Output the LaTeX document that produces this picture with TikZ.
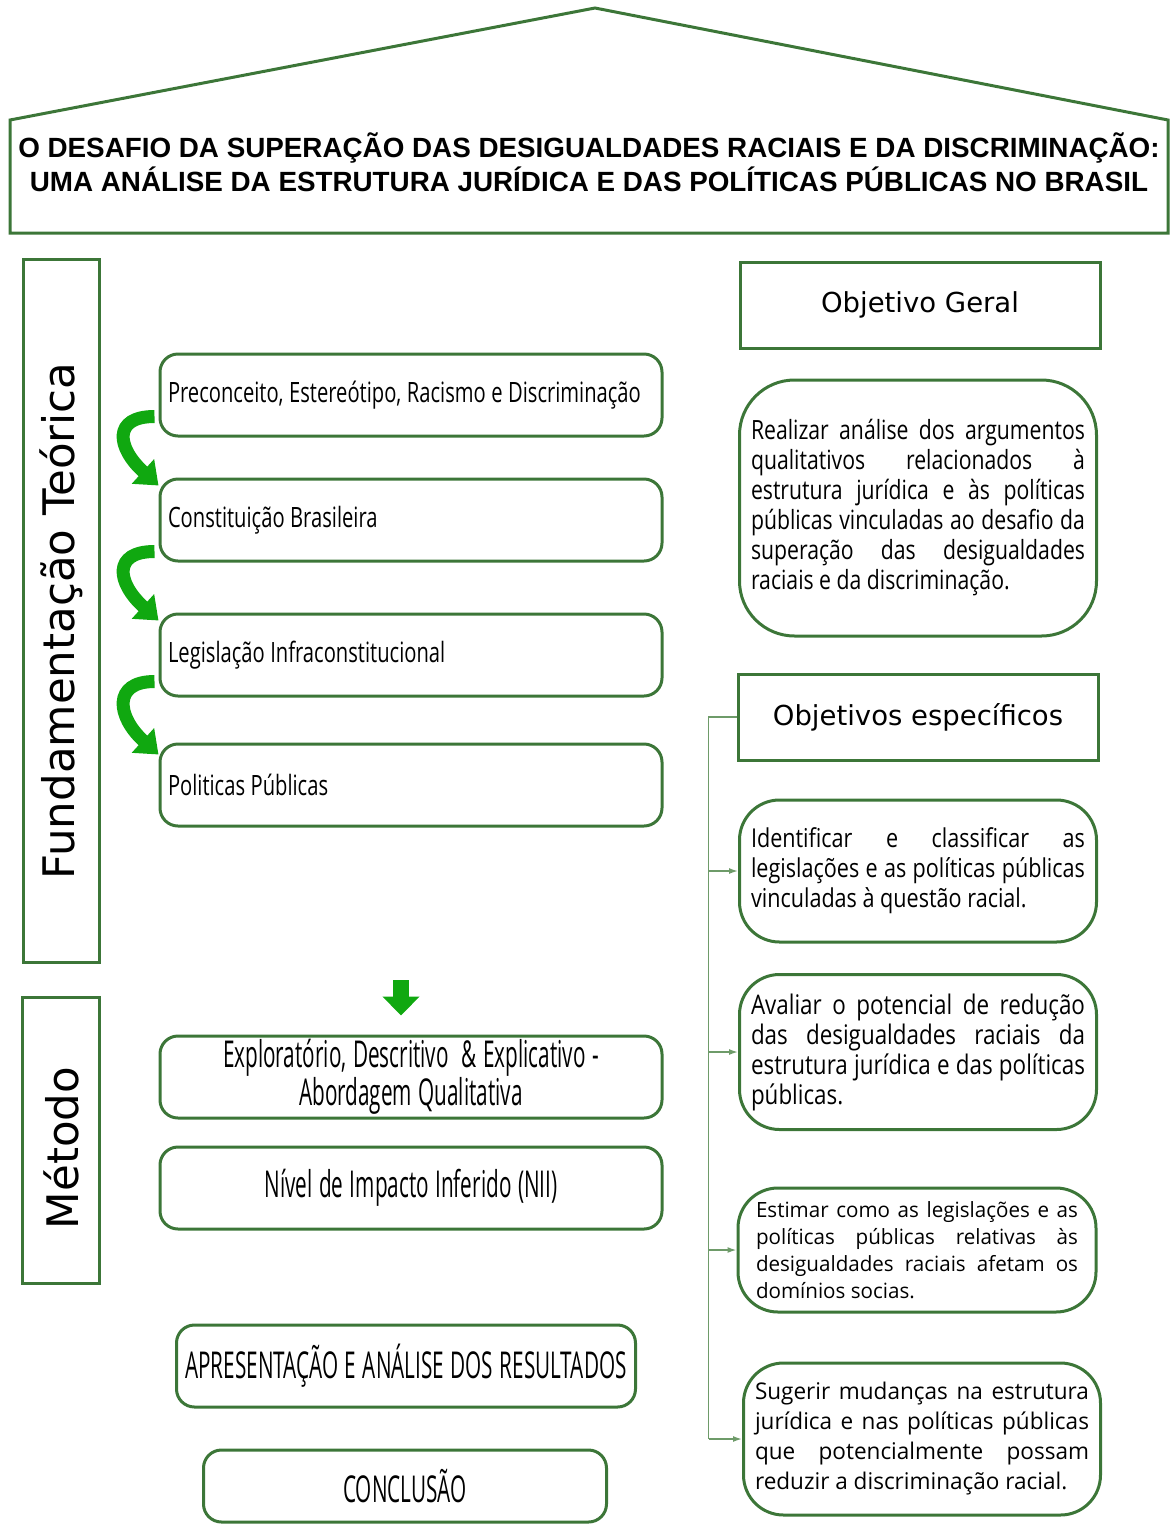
\documentclass[tikz,border=0pt]{standalone}
\usepackage{fontspec}
\usepackage{tikz}
\usetikzlibrary{positioning,arrows.meta}

\newfontfamily\titlefont{Liberation Sans}
\newfontfamily\headfont{DejaVu Sans}
\newfontfamily\boxfont[FakeStretch=0.72]{Open Sans}
\newfontfamily\tallfont[FakeStretch=0.56]{Open Sans}
\newfontfamily\objA[FakeStretch=0.8]{Open Sans}
\newfontfamily\objB[FakeStretch=0.83]{Open Sans}
\newfontfamily\objC[FakeStretch=0.98]{Open Sans}

\definecolor{moldura}{RGB}{60,118,56}
\definecolor{ramo}{RGB}{110,155,105}
\definecolor{verde}{RGB}{16,168,16}

\tolerance=10000
\hyphenpenalty=10000

\tikzset{
  contorno/.style={draw=moldura, line width=3pt, line join=miter},
  titulo/.style={align=center, font=\titlefont\bfseries\fontsize{27.8}{34}\selectfont},
  lateral/.style={draw=moldura, line width=3pt},
  lateraltexto/.style={rotate=90, font=\headfont\fontsize{43.5}{50}\selectfont},
  caixa/.style={draw=moldura, line width=3pt, rounded corners=18pt, minimum width=502pt, minimum height=82pt,
    inner xsep=8pt, text width=486pt, align=left, font=\boxfont\fontsize{28}{32}\selectfont,
    execute at begin node={\spaceskip=5.5pt\relax}},
  caixac/.style={caixa, align=center, font=\tallfont\fontsize{37}{32}\selectfont,
    execute at begin node={\spaceskip=6.5pt\relax}},
  objtit/.style={draw=moldura, line width=3pt, minimum width=360pt, minimum height=86pt, font=\headfont\fontsize{27.5}{32}\selectfont},
  objbox/.style={draw=moldura, line width=3pt, rounded corners=40pt, inner xsep=11.5pt, text width=334pt, align=justify},
  curva/.style={draw=verde, line width=13pt, -{Triangle[length=21pt,width=32pt]}},
  baixo/.style={draw=verde, line width=16pt, -{Triangle[length=19pt,width=36pt]}},
  galho/.style={draw=ramo, line width=1.5pt}
}

\begin{document}
\begin{tikzpicture}[x=1pt,y=-1pt]
\useasboundingbox (0,0) rectangle (1171,1524);

\draw[contorno] (10,233) -- (10,120) -- (595,8) -- (1168,120) -- (1168,233) -- cycle;
\node[titulo] (tit) at (589,162) {O DESAFIO DA SUPERAÇÃO DAS DESIGUALDADES RACIAIS E DA DISCRIMINAÇÃO:\\UMA ANÁLISE DA ESTRUTURA JURÍDICA E DAS POLÍTICAS PÚBLICAS NO BRASIL};

\node[lateral, minimum width=76pt, minimum height=703pt] (fund) at (61,611) {};
\node[lateraltexto] (fundtxt) at ([yshift=-10pt]fund.center) {Fundamentação Teórica};
\node[lateral, minimum width=77pt, minimum height=286pt] (met) at (61,1140) {};
\node[lateraltexto] (mettxt) at ([yshift=-8pt]met.center) {Método};

\node[caixa] (pre) at (411,395) {Preconceito, Estereótipo, Racismo e Discriminação};
\node[caixa, below=40pt of pre] (con) {Constituição Brasileira};
\node[caixa, below=50pt of con] (leg) {Legislação Infraconstitucional};
\node[caixa, below=45pt of leg] (pol) {Politicas Públicas};

\foreach \a/\b/\s/\e in {pre/con/21pt/8pt, con/leg/11pt/8pt, leg/pol/16pt/12pt}
  \draw[curva] ([xshift=-4pt,yshift=\s]\a.south west) .. controls +(-42,0) and +(-42,-38) .. ([yshift=-\e]\b.north west);

\node[caixac] (exp) at (411,1077) {Exploratório, Descritivo\ \ \& Explicativo -\\Abordagem Qualitativa};
\node[caixac, below=26pt of exp] (nii) {Nível de Impacto Inferido (NII)};
\node[caixac, minimum width=459pt, inner xsep=1pt, text width=457pt] (apr) at (406,1366) {APRESENTAÇÃO E ANÁLISE DOS RESULTADOS};
\node[caixac, minimum width=403pt, text width=387pt, minimum height=72pt] (conc) at (405,1486) {CONCLUSÃO};

\coordinate (topo) at (401,980);
\draw[baixo] (topo) -- ([yshift=19pt]topo |- exp.north);

\node[objtit] (geral) at (920,305) {Objetivo Geral};
\node[objbox, minimum height=256pt, rounded corners=55pt, font=\objA\fontsize{26.5}{30}\selectfont] (txtgeral) at (918,508)
  {Realizar análise dos argumentos\linebreak qualitativos relacionados à\linebreak estrutura jurídica e às políticas\linebreak públicas vinculadas ao desafio da\linebreak superação das desigualdades\linebreak raciais e da discriminação.};

\node[objtit] (espec) at (918,717) {Objetivos específicos};
\node[objbox, minimum height=142pt, font=\objB\fontsize{26}{30}\selectfont] (ident) at (918,871)
  {Identificar e classificar as\linebreak legislações e as políticas públicas\linebreak vinculadas à questão racial.};
\node[objbox, minimum height=155pt, font=\objB\fontsize{27}{30}\selectfont] (aval) at (918,1052)
  {Avaliar o potencial de redução\linebreak das desigualdades raciais da\linebreak estrutura jurídica e das políticas\linebreak públicas.};
\node[objbox, minimum height=124pt, inner xsep=18pt, text width=322pt, font=\objC\fontsize{21}{27}\selectfont] (estim) at (917,1250)
  {Estimar como as legislações e as\linebreak políticas públicas relativas às\linebreak desigualdades raciais afetam os\linebreak domínios socias.};
\node[objbox, minimum height=152pt, font=\objC\fontsize{23}{30}\selectfont] (suger) at (922,1439)
  {Sugerir mudanças na estrutura\linebreak jurídica e nas políticas públicas\linebreak que potencialmente possam\linebreak reduzir a discriminação racial.};

\draw[galho] (espec.west) -- ++(-28,0) coordinate (tronco) -- (tronco |- suger.west);
\foreach \alvo in {ident,aval,estim,suger}
  \draw[galho, -{Latex[length=9pt,width=6pt]}] (tronco |- \alvo.west) -- (\alvo.west);

\end{tikzpicture}
\end{document}
